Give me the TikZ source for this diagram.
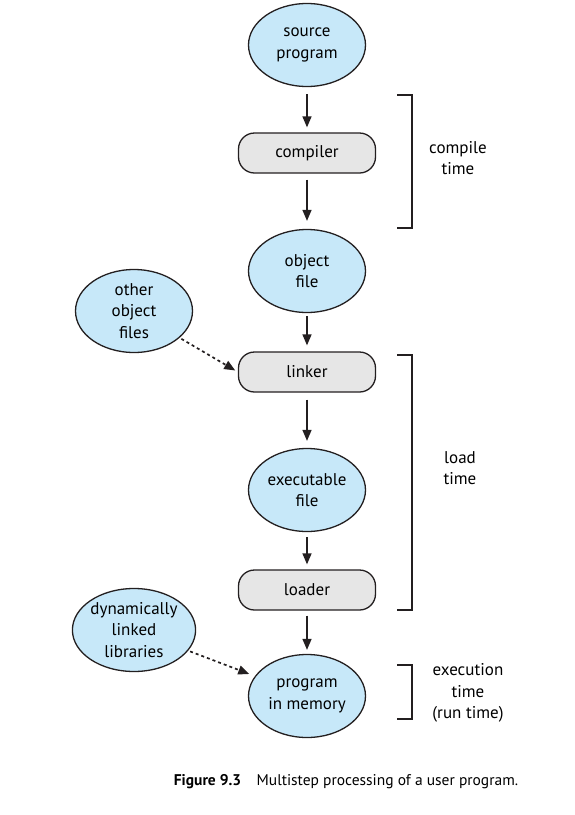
\documentclass[tikz,border=0pt]{standalone}
\usepackage{fontspec}
\setmainfont{PT Sans}
\usetikzlibrary{arrows.meta,positioning,shapes.geometric}
\definecolor{inkdark}{RGB}{35,31,32}
\definecolor{fileblue}{RGB}{199,232,249}
\definecolor{stepgray}{RGB}{230,230,230}

\begin{document}
\begin{tikzpicture}[x=1pt,y=-1pt,
    file/.style={ellipse,draw=inkdark,line width=1.3pt,fill=fileblue,minimum width=117pt,minimum height=83pt,inner sep=0pt,align=center,font=\fontsize{17}{21.5}\selectfont},
    stepbox/.style={draw=inkdark,line width=1.3pt,rounded corners=16pt,fill=stepgray,minimum width=137pt,minimum height=40pt,align=center,font=\fontsize{17}{21.5}\selectfont},
    flow/.style={-{Triangle[length=11pt,width=9pt]},line width=1.5pt,inkdark},
    extra/.style={-{Triangle[length=11pt,width=9pt]},line width=1.7pt,inkdark,dash pattern=on 3pt off 3pt},
    brace/.style={line width=1.5pt,inkdark},
    phase/.style={align=center,font=\fontsize{17}{21.5}\selectfont}]
    \useasboundingbox (0,0) rectangle (574,815);
    \node[file] (source) at (307,45) {source\\program};
    \node[stepbox] (compiler) at (307,153) {compiler};
    \node[file] (object) at (307,271) {object\\file};
    \node[stepbox] (linker) at (307,372) {linker};
    \node[file] (exec) at (307,490) {executable\\file};
    \node[stepbox] (loader) at (307,590) {loader};
    \node[file] (memory) at (307,696) {program\\in memory};
    \node[file] (others) at (134,311) {other\\object\\files};
    \node[file] (dynlib) at (134,630) {dynamically\\linked\\libraries};
    \draw[flow,shorten <=7pt,shorten >=5pt] (source) -- (compiler);
    \draw[flow,shorten <=6pt,shorten >=8pt] (compiler) -- (object);
    \draw[flow,shorten <=3pt,shorten >=6pt] (object) -- (linker);
    \draw[flow,shorten <=7pt,shorten >=7pt] (linker) -- (exec);
    \draw[flow,shorten <=5pt,shorten >=5pt] (exec) -- (loader);
    \draw[flow,shorten <=5pt,shorten >=4pt] (loader) -- (memory);
    \draw[extra,shorten <=2pt,shorten >=3pt] (others) -- (linker.west);
    \draw[extra,shorten <=2pt,shorten >=6pt] (dynlib) -- (memory);
    % time brackets
    \draw[brace] (397,95) -- (412,95) -- (412,228) -- (397,228);
    \draw[brace] (397,355) -- (412,355) -- (412,610) -- (397,610);
    \draw[brace] (397,665) -- (412,665) -- (412,719) -- (397,719);
    \node[phase] (compiletime) at (458,158) {compile\\time};
    \node[phase] (loadtime) at (460,468) {load\\time};
    \node[phase] (runtime) at (468,693) {execution\\time\\(run time)};
    \node[font=\fontsize{15.5}{18}\selectfont] (caption) at (346,782) {\textbf{Figure 9.3}\quad Multistep processing of a user program.};
\end{tikzpicture}
\end{document}
